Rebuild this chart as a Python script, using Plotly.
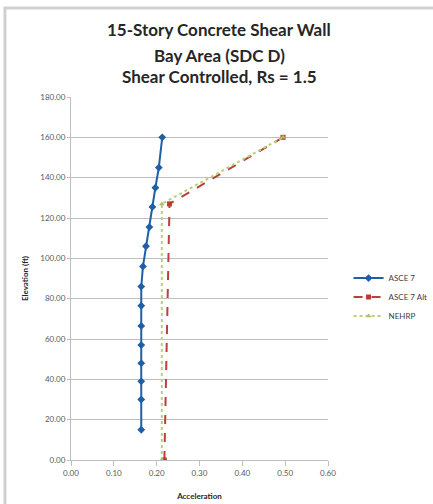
import plotly.graph_objects as go

# ASCE 7
asce7_x = [0.164, 0.164, 0.164, 0.164, 0.164, 0.164, 0.164, 0.164, 0.168, 0.175, 0.183, 0.190, 0.197, 0.205, 0.213]
asce7_y = [15, 30, 39, 48, 57, 66.5, 76.5, 86, 96, 106, 115.5, 125.5, 135, 145, 160]
# ASCE 7 Alt
alt_x = [0.218, 0.230, 0.495]
alt_y = [0, 127, 160]
# NEHRP
nehrp_x = [0.212, 0.212, 0.495]
nehrp_y = [0, 127, 160]

x_ticks = [0.0, 0.1, 0.2, 0.3, 0.4, 0.5, 0.6]
y_ticks = [0, 20, 40, 60, 80, 100, 120, 140, 160, 180]

title_lines = ["15-Story Concrete Shear Wall", "Bay Area (SDC D)", "Shear Controlled, Rs = 1.5"]

fig = go.Figure()
fig.add_trace(go.Scatter(x=asce7_x, y=asce7_y, mode="lines+markers", name="ASCE 7",
                         line=dict(color="#1f5fa8", width=2),
                         marker=dict(symbol="diamond", size=6, color="#1f5fa8")))
fig.add_trace(go.Scatter(x=alt_x, y=alt_y, mode="lines+markers", name="ASCE 7 Alt",
                         line=dict(color="#b8413c", width=2, dash="dash"),
                         marker=dict(symbol="square", size=5, color="#c0392b")))
fig.add_trace(go.Scatter(x=nehrp_x, y=nehrp_y, mode="lines+markers", name="NEHRP",
                         line=dict(color="#b9cf7a", width=2, dash="dot"),
                         marker=dict(symbol="triangle-up", size=5, color="#a9c466")))

title_y = [1.1846, 1.1157, 1.0551]
annotations = [dict(text="<b>%s</b>" % t, xref="paper", yref="paper", x=0.576, y=yy,
                    xanchor="center", yanchor="middle", showarrow=False,
                    font=dict(size=17, color="#262626", family="Lato, sans-serif"))
               for t, yy in zip(title_lines, title_y)]

fig.update_layout(
    width=433, height=504,
    margin=dict(l=71, r=105, t=97, b=44, autoexpand=False),
    paper_bgcolor="white", plot_bgcolor="white",
    font=dict(family="Lato, Carlito, Calibri, sans-serif", color="#404040"),
    showlegend=True,
    annotations=annotations,
    legend=dict(x=1.08, y=0.541, xanchor="left", yanchor="top", font=dict(size=8, color="#404040"),
                bgcolor="rgba(0,0,0,0)", tracegroupgap=0),
    xaxis=dict(range=[0, 0.6], tickvals=x_ticks, tickformat=".2f", showgrid=False, automargin=False,
               showline=True, linecolor="#bfbfbf", linewidth=1, ticks="outside", ticklen=5,
               tickcolor="#bfbfbf", tickfont=dict(size=8, color="#595959"), zeroline=False,
               title=dict(text="<b>Acceleration</b>", font=dict(size=8, color="#262626"), standoff=16)),
    yaxis=dict(range=[0, 180], tickvals=y_ticks, tickformat=".2f", showgrid=True, gridcolor="#bfbfbf",
               gridwidth=1, showline=True, linecolor="#bfbfbf", linewidth=1, ticks="outside", automargin=False,
               ticklen=3, tickcolor="#bfbfbf", tickfont=dict(size=8, color="#595959"), zeroline=False,
               title=dict(text="<b>Elevation (ft)</b>", font=dict(size=8, color="#262626"), standoff=10)),
    shapes=[dict(type="rect", xref="paper", yref="paper", x0=-0.257, x1=1.6, y0=-0.5, y1=1.245,
                 line=dict(color="#d0d0d0", width=3), fillcolor="rgba(0,0,0,0)", layer="above")],
)

fig.write_html("out.html", config={"displayModeBar": False},
               post_script="document.body.style.margin='0';document.body.style.overflow='hidden';")
